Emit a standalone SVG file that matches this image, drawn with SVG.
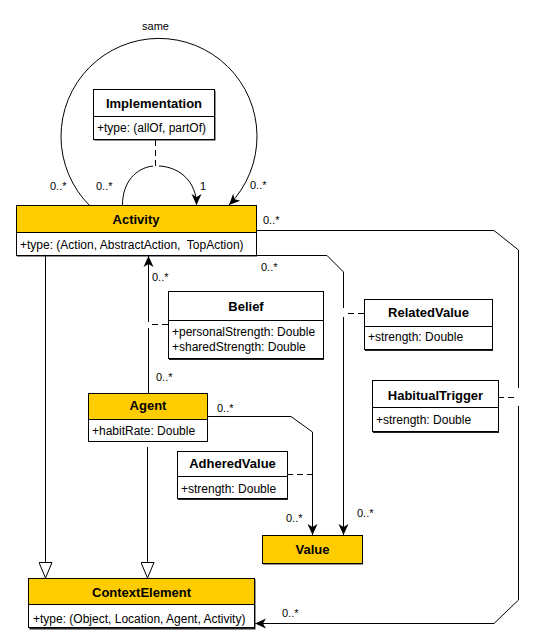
<svg xmlns="http://www.w3.org/2000/svg" width="535" height="643" viewBox="0 0 535 643">
<defs>
<marker id="arr" markerUnits="userSpaceOnUse" markerWidth="12" markerHeight="12" refX="11" refY="5" orient="auto" viewBox="0 0 12 10">
<path d="M0,0 L11,5 L0,10 L3,5 z" fill="#000"/>
</marker>
<marker id="gen" markerUnits="userSpaceOnUse" markerWidth="18" markerHeight="14" refX="16" refY="7" orient="auto" viewBox="0 0 18 14">
<path d="M0.5,0.5 L16,7 L0.5,13.5 z" fill="#fff" stroke="#000" stroke-width="1"/>
</marker>
</defs>
<style>
.box{fill:#fff;stroke:#000;stroke-width:1}
.ybox{fill:#ffcc00;stroke:#000;stroke-width:1}
.sh{fill:#222}
.div{stroke:#000;stroke-width:1}
.t{font-family:"Liberation Sans",Arial,sans-serif;font-size:13px;font-weight:bold;text-anchor:middle;fill:#000}
.a{font-family:"Liberation Sans",Arial,sans-serif;font-size:12px;fill:#000;white-space:pre}
.l{font-family:"Liberation Sans",Arial,sans-serif;font-size:11px;fill:#000}
.c{fill:none;stroke:#000;stroke-width:1}
.d{fill:none;stroke:#000;stroke-width:1;stroke-dasharray:6 4}
</style>
<rect width="535" height="643" fill="#fff"/>

<g id="connectors">
<!-- same self loop -->
<path class="c" d="M90,206 A98,98 0 1 1 229,205" marker-end="url(#arr)"/>
<!-- implementation loop -->
<path class="c" d="M122.5,205 C122.5,182 136,168 153,166"/>
<path class="c" d="M159,166 C180,167 196.5,182 196.5,205" marker-end="url(#arr)"/>
<path class="d" d="M155.5,140 L155.5,166"/>
<!-- Activity to ContextElement (right route) -->
<path class="c" d="M256,230.5 L494,230.5 L518.5,250 L518.5,388"/>
<path class="c" d="M518.5,406 L518.5,600 L494,623.5 L255,623.5" marker-end="url(#arr)"/>
<path class="d" d="M498,397.5 L518,397.5"/>
<!-- Activity to Value -->
<path class="c" d="M256,255.5 L327,255.5 L343.5,272 L343.5,308"/>
<path class="c" d="M343.5,317 L343.5,535" marker-end="url(#arr)"/>
<path class="d" d="M364,313.5 L344,313.5"/>
<!-- Agent to Activity -->
<path class="c" d="M148.5,322 L148.5,256" marker-end="url(#arr)"/>
<path class="c" d="M148.5,328 L148.5,393"/>
<path class="d" d="M168,324.5 L149,324.5"/>
<!-- Agent to Value -->
<path class="c" d="M207,416.5 L291,416.5 L312.5,432 L312.5,535" marker-end="url(#arr)"/>
<path class="d" d="M287,474.5 L312,474.5"/>
<!-- generalizations -->
<path class="c" d="M45.5,256 L45.5,578" marker-end="url(#gen)"/>
<path class="c" d="M147.5,447 L147.5,578" marker-end="url(#gen)"/>
<!-- labels -->
<text class="l" x="155.5" y="30" text-anchor="middle">same</text>
<text class="l" x="50" y="190">0..*</text>
<text class="l" x="96" y="190">0..*</text>
<text class="l" x="200" y="190">1</text>
<text class="l" x="250" y="189">0..*</text>
<text class="l" x="263" y="224">0..*</text>
<text class="l" x="261" y="271">0..*</text>
<text class="l" x="152" y="281">0..*</text>
<text class="l" x="156" y="381">0..*</text>
<text class="l" x="217" y="412">0..*</text>
<text class="l" x="286" y="522">0..*</text>
<text class="l" x="357" y="517">0..*</text>
<text class="l" x="282" y="617">0..*</text>
</g>

<g id="Implementation">
<rect class="sh" x="94.5" y="90.5" width="121" height="50"/>
<rect class="box" x="93.5" y="89.5" width="121" height="50"/>
<line class="div" x1="93.5" y1="116.5" x2="214.5" y2="116.5"/>
<text class="t" x="154" y="107.5">Implementation</text>
<text class="a" x="97" y="132">+type: (allOf, partOf)</text>
</g>

<g id="Activity">
<rect class="sh" x="17" y="206.5" width="240" height="50"/>
<rect class="box" x="16.5" y="205.5" width="240" height="50"/>
<rect class="ybox" x="16.5" y="205.5" width="240" height="27"/>
<text class="t" x="136" y="223.5">Activity</text>
<text class="a" x="20" y="248.5">+type: (Action, AbstractAction,  TopAction)</text>
</g>

<g id="Belief">
<rect class="sh" x="169" y="292" width="155" height="68"/>
<rect class="box" x="168.5" y="291.5" width="155" height="67"/>
<line class="div" x1="168.5" y1="320.5" x2="323.5" y2="320.5"/>
<text class="t" x="246" y="311">Belief</text>
<text class="a" x="172" y="335.5">+personalStrength: Double</text>
<text class="a" x="172" y="351">+sharedStrength: Double</text>
</g>

<g id="RelatedValue">
<rect class="sh" x="365" y="300" width="128" height="51"/>
<rect class="box" x="364.5" y="299.5" width="128" height="50"/>
<line class="div" x1="364.5" y1="326.5" x2="492.5" y2="326.5"/>
<text class="t" x="428.5" y="317">RelatedValue</text>
<text class="a" x="368" y="341">+strength: Double</text>
</g>

<g id="HabitualTrigger">
<rect class="sh" x="373" y="381" width="126" height="52"/>
<rect class="box" x="372.5" y="380.5" width="126" height="51"/>
<line class="div" x1="372.5" y1="407.5" x2="498.5" y2="407.5"/>
<text class="t" x="435.5" y="399.5">HabitualTrigger</text>
<text class="a" x="376" y="424">+strength: Double</text>
</g>

<g id="Agent">
<rect class="sh" x="89" y="394" width="119" height="48"/>
<rect class="box" x="88.5" y="393.5" width="119" height="48"/>
<rect class="ybox" x="88.5" y="393.5" width="119" height="26"/>
<text class="t" x="148" y="410">Agent</text>
<text class="a" x="92" y="435">+habitRate: Double</text>
</g>

<g id="AdheredValue">
<rect class="sh" x="178" y="452" width="110" height="48"/>
<rect class="box" x="177.5" y="451.5" width="110" height="47"/>
<line class="div" x1="177.5" y1="476.5" x2="287.5" y2="476.5"/>
<text class="t" x="232.5" y="467.5">AdheredValue</text>
<text class="a" x="181" y="493">+strength: Double</text>
</g>

<g id="Value">
<rect class="sh" x="263" y="536.5" width="100" height="28"/>
<rect class="ybox" x="262.5" y="535.5" width="100" height="28"/>
<text class="t" x="312.5" y="554">Value</text>
</g>

<g id="ContextElement">
<rect class="sh" x="29.5" y="579.5" width="226" height="50"/>
<rect class="box" x="28.5" y="578.5" width="226" height="49"/>
<rect class="ybox" x="28.5" y="578.5" width="226" height="26"/>
<text class="t" x="141.5" y="597">ContextElement</text>
<text class="a" x="33" y="622.5">+type: (Object, Location, Agent, Activity)</text>
</g>
</svg>
